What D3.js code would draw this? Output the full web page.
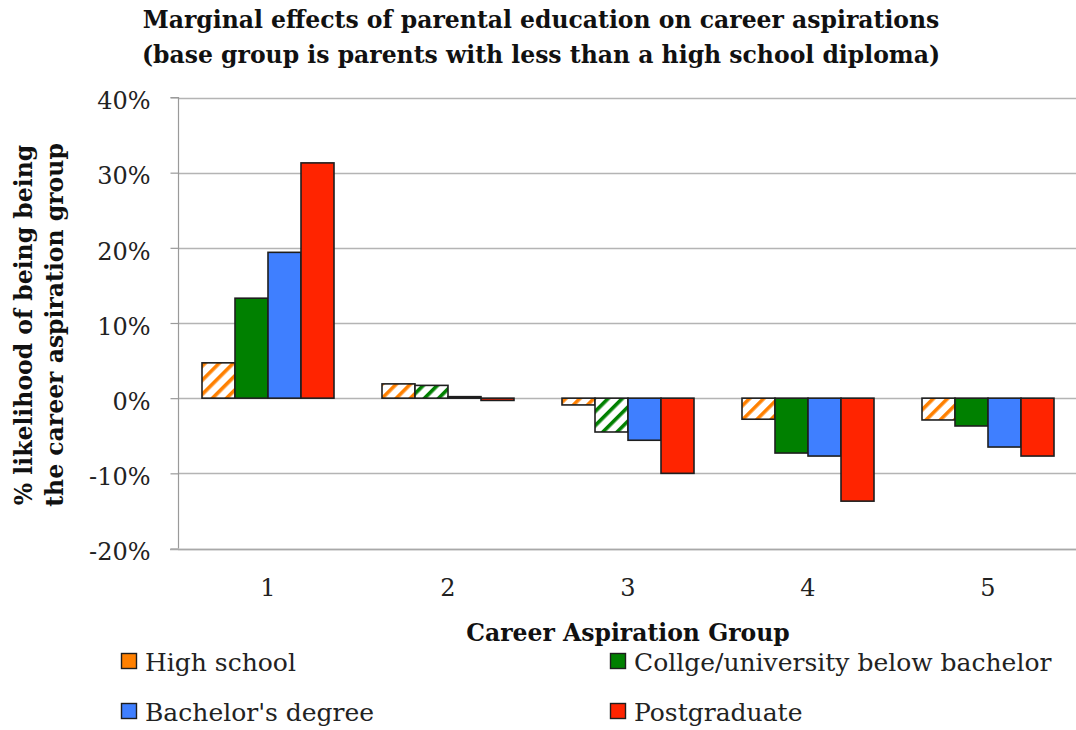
<!DOCTYPE html>
<html>
<head>
<meta charset="utf-8">
<script src="https://cdn.jsdelivr.net/npm/d3@7"></script>
<style>
  html, body { margin: 0; padding: 0; background: #fff; }
  svg { display: block; font-family: "DejaVu Serif", "Liberation Serif", serif; }
</style>
</head>
<body>
<svg id="chart" width="1076" height="730"></svg>
<script>
// Career aspiration groups on the x axis
const groups = ["1", "2", "3", "4", "5"];

// Parental education levels (series)
const seriesNames = ["High school", "Collge/university below bachelor", "Bachelor's degree", "Postgraduate"];
const seriesColors = ["#ff8000", "#008000", "#3f7fff", "#ff2400"];

// Marginal effects in percent, one array per series (group 1..5)
const highSchool   = [4.7, 1.9, -0.9, -2.8, -2.9];
const college      = [13.3, 1.7, -4.5, -7.3, -3.7];
const bachelor     = [19.4, 0.2, -5.6, -7.7, -6.5];
const postgraduate = [31.3, -0.3, -10.0, -13.7, -7.7];

// Estimates that are drawn hatched (not significant), same layout as the values
const hatchedHS   = [true, true, true, true, true];
const hatchedCol  = [false, true, true, false, false];
const hatchedBach = [false, false, false, false, false];
const hatchedPost = [false, false, false, false, false];

// Y axis ticks
const yTicks = [-20, -10, 0, 10, 20, 30, 40];

const seriesValues = [highSchool, college, bachelor, postgraduate];
const seriesHatched = [hatchedHS, hatchedCol, hatchedBach, hatchedPost];

const svg = d3.select("#chart");
const W = 1076, H = 730;
const labelSize = 24, legendSize = 25, titleSize = 23.5;

const x = d3.scaleBand().domain(groups).range([178, 1078]).paddingInner(0).paddingOuter(0);
const xi = d3.scaleBand().domain(d3.range(seriesNames.length)).range([24, 156]);
const y = d3.scaleLinear().domain([-20, 40]).range([548.5, 97.5]);

// hatch patterns
const defs = svg.append("defs");
seriesColors.forEach((c, i) => {
  const p = defs.append("pattern")
    .attr("id", "hatch" + i)
    .attr("patternUnits", "userSpaceOnUse")
    .attr("width", 10).attr("height", 10)
    .attr("patternTransform", "rotate(45)");
  p.append("rect").attr("width", 10).attr("height", 10).attr("fill", "#fff");
  p.append("rect").attr("x", 0).attr("width", 3.6).attr("height", 10).attr("fill", c);
});

// gridlines
svg.append("g")
  .selectAll("line")
  .data(yTicks)
  .join("line")
  .attr("x1", 178).attr("x2", W)
  .attr("y1", d => Math.round(y(d)) + 0.5).attr("y2", d => Math.round(y(d)) + 0.5)
  .attr("stroke", "#b4b4b4").attr("stroke-width", 1.5);

// y axis
const yAxis = d3.axisLeft(y).tickValues(yTicks).tickSize(8).tickPadding(20)
  .tickFormat(d => d + "%");
const gy = svg.append("g").attr("transform", "translate(178.5,0)").call(yAxis);
gy.select(".domain").attr("stroke", "#9a9a9a").attr("stroke-width", 1.2).attr("d", `M-8,${y(40)}H0V${y(-20)}`);
gy.selectAll(".tick line").attr("stroke", "#9a9a9a").attr("stroke-width", 1.2);
gy.selectAll(".tick text").attr("font-size", labelSize).attr("fill", "#222")
  .attr("font-family", "DejaVu Serif, serif").attr("dy", "0.47em");

// x axis (labels only, line at the bottom)
const xAxis = d3.axisBottom(x).tickSize(0).tickPadding(30);
const gx = svg.append("g").attr("transform", `translate(0,${y(-20)})`).call(xAxis);
gx.select(".domain").remove();
gx.selectAll(".tick text").attr("font-size", labelSize).attr("fill", "#222")
  .attr("font-family", "DejaVu Serif, serif");
svg.append("line").attr("x1", 170).attr("x2", W)
  .attr("y1", Math.round(y(-20)) + 0.5).attr("y2", Math.round(y(-20)) + 0.5)
  .attr("stroke", "#a8a8a8").attr("stroke-width", 1.5);

// bars
const barData = [];
groups.forEach((g, gi) => {
  seriesValues.forEach((vals, si) => {
    barData.push({ g, si, v: vals[gi], hatched: seriesHatched[si][gi] });
  });
});
svg.append("g")
  .selectAll("rect")
  .data(barData)
  .join("rect")
  .attr("x", d => x(d.g) + xi(d.si))
  .attr("width", xi.bandwidth())
  .attr("y", d => Math.min(y(d.v), y(0)))
  .attr("height", d => Math.max(1, Math.abs(y(d.v) - y(0))))
  .attr("fill", d => d.hatched ? `url(#hatch${d.si})` : seriesColors[d.si])
  .attr("stroke", "#1e1e1e").attr("stroke-width", 1.6);

// title
const title = svg.append("text").attr("text-anchor", "middle").attr("font-weight", "bold")
  .attr("font-size", titleSize).attr("fill", "#111");
title.append("tspan").attr("x", 541).attr("y", 28).text("Marginal effects of parental education on career aspirations");
title.append("tspan").attr("x", 541).attr("y", 63).text("(base group is parents with less than a high school diploma)");

// y axis title
const yt = svg.append("text").attr("text-anchor", "middle").attr("font-weight", "bold")
  .attr("font-size", titleSize).attr("fill", "#111")
  .attr("transform", "translate(0,325) rotate(-90)");
yt.append("tspan").attr("x", 0).attr("y", 32).text("% likelihood of being being");
yt.append("tspan").attr("x", 0).attr("y", 63).text("the career aspiration group");

// x axis title
svg.append("text").attr("x", 628).attr("y", 641).attr("text-anchor", "middle")
  .attr("font-weight", "bold").attr("font-size", titleSize).attr("fill", "#111")
  .text("Career Aspiration Group");

// legend
const legendPos = [[121, 671], [610, 671], [121, 721], [610, 721]];
const leg = svg.append("g").selectAll("g").data(seriesNames).join("g")
  .attr("transform", (d, i) => `translate(${legendPos[i][0]},${legendPos[i][1]})`);
leg.append("rect").attr("x", 0.5).attr("y", -17.5).attr("width", 15).attr("height", 15)
  .attr("fill", (d, i) => seriesColors[i]).attr("stroke", "#1e1e1e").attr("stroke-width", 1.4);
leg.append("text").attr("x", 24).attr("y", 0).attr("font-size", legendSize).attr("fill", "#222")
  .text(d => d);
</script>
</body>
</html>
